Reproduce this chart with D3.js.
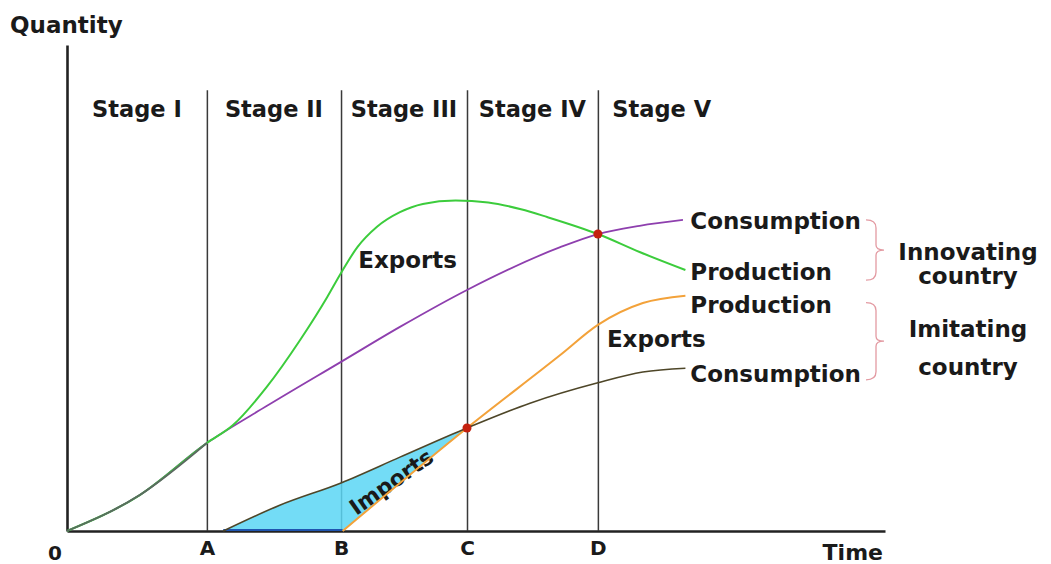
<!DOCTYPE html>
<html>
<head>
<meta charset="utf-8">
<script src="https://cdn.jsdelivr.net/npm/d3@7"></script>
<style>
  body { margin: 0; background: #fff; }
  text { font-family: "DejaVu Sans", Verdana, sans-serif; font-weight: bold; fill: #1a1a1a; }
</style>
</head>
<body>
<div id="viz"></div>
<script>
var width = 1051
var height = 564

// time points on the x axis (A..D) and stage names
var timeMarks = ["A", "B", "C", "D"]
var timeValues = [17.1, 33.5, 48.9, 64.9]
var stageNames = ["Stage I", "Stage II", "Stage III", "Stage IV", "Stage V"]
var stageEnd = 80.5

// innovating country
var innovProduction = [[0,0],[8.9,7.4],[17.1,18.1],[20.3,21.8],[24.4,29.6],[28.5,39.3],[31.8,48.1],[33.5,53.1],[35.5,58.4],[37.9,62.6],[40.7,65.6],[43.5,67.3],[47.5,68.0],[51.5,67.6],[55.5,66.2],[58.7,64.6],[64.9,61.1],[70.0,57.4],[75.6,53.7]]
var innovConsumption = [[0,0],[8.9,7.4],[17.1,18.1],[24.4,25.7],[33.5,34.8],[40.7,42.0],[48.9,49.6],[60.3,58.4],[64.9,61.1],[70.0,62.8],[75.3,64.0]]

// imitating country
var imitProduction = [[33.7,0],[48.9,21.2],[60.3,36.2],[64.9,42.4],[70.4,46.9],[75.6,48.4]]
var imitConsumption = [[19.1,0],[26.0,5.3],[33.5,9.9],[40.7,15.2],[48.9,21.2],[56.6,26.3],[64.9,30.5],[70.4,32.7],[75.6,33.5]]

var crossings = [[48.9,21.2],[64.9,61.1]]

var canvas = d3.select("#viz")
	.append("svg")
	.attr("width", width)
	.attr("height", height);

var x = d3.scaleLinear().domain([0, 100]).range([67, 885]);
var y = d3.scaleLinear().domain([0, 100]).range([531, 45]);

var stageTop = 90.7;

// x axis with the A..D ticks stretched up as stage dividers
var xAxis = d3.axisBottom(x)
	.tickValues(timeValues)
	.tickFormat(function(d, i){ return timeMarks[i]; })
	.tickSizeInner(-(y(0) - y(stageTop)))
	.tickSizeOuter(0)
	.tickPadding(10);

var gx = canvas.append("g")
	.attr("transform", "translate(0," + y(0) + ")")
	.call(xAxis);
gx.select(".domain").attr("stroke", "#222").attr("stroke-width", 2.6);
gx.selectAll(".tick line").attr("stroke", "#3a3a3a").attr("stroke-width", 1.5);
gx.selectAll(".tick text")
	.attr("font-size", 20)
	.attr("font-family", "DejaVu Sans")
	.attr("font-weight", "bold")
	.attr("fill", "#1a1a1a");

var gy = canvas.append("g")
	.attr("transform", "translate(" + x(0) + ",0)")
	.call(d3.axisLeft(y).tickValues([]).tickSizeOuter(0));
gy.select(".domain").attr("stroke", "#222").attr("stroke-width", 2.6);

canvas.append("text").text("Quantity")
	.attr("x", 10).attr("y", 33).attr("font-size", 23);
canvas.append("text").text("0")
	.attr("x", x(0) - 12).attr("y", 560).attr("text-anchor", "middle").attr("font-size", 20);
canvas.append("text").text("Time")
	.attr("x", 883).attr("y", 560).attr("text-anchor", "end").attr("font-size", 22);

// stage labels centred in each interval
var bounds = [0].concat(timeValues, [stageEnd]);
canvas.selectAll(".stage")
	.data(stageNames)
	.enter()
	.append("text")
	.attr("class", "stage")
	.text(function(d){ return d; })
	.attr("x", function(d, i){ return x((bounds[i] + bounds[i + 1]) / 2); })
	.attr("y", y(85.2))
	.attr("text-anchor", "middle")
	.attr("font-size", 22.5);

var line = d3.line()
	.x(function(d){ return x(d[0]); })
	.y(function(d){ return y(d[1]); })
	.curve(d3.curveMonotoneX);

// imports area: under imitating consumption, above imitating production
var consPart = imitConsumption.filter(function(d){ return d[0] <= timeValues[2]; });
var prodPart = imitProduction.filter(function(d){ return d[0] <= timeValues[2]; }).reverse();
var areaPath = line(consPart) + d3.line()
	.x(function(d){ return x(d[0]); })
	.y(function(d){ return y(d[1]); })(prodPart).replace(/^M/, "L") + "Z";

canvas.append("path")
	.attr("d", areaPath)
	.attr("fill", "#5ad6f4")
	.attr("fill-opacity", 0.85)
	.attr("stroke", "none");
canvas.append("line")
	.attr("x1", x(imitConsumption[0][0])).attr("x2", x(imitProduction[0][0]))
	.attr("y1", y(0) - 1).attr("y2", y(0) - 1)
	.attr("stroke", "#1f55b0").attr("stroke-width", 2);

canvas.append("text").text("Imports")
	.attr("transform", "translate(" + x(40.2) + "," + y(8.8) + ") rotate(-35)")
	.attr("text-anchor", "middle")
	.attr("font-size", 22)
	.attr("fill", "#1c2a44");

var series = [
	{data: innovConsumption, color: "#8e3fae", w: 1.8},
	{data: innovProduction, color: "#3ccc3c", w: 2},
	{data: imitProduction, color: "#f3a23a", w: 2},
	{data: imitConsumption, color: "#4e4628", w: 1.6}
];

canvas.selectAll(".series")
	.data(series)
	.enter()
	.append("path")
	.attr("class", "series")
	.attr("d", function(d){ return line(d.data); })
	.attr("fill", "none")
	.attr("stroke", function(d){ return d.color; })
	.attr("stroke-width", function(d){ return d.w; });

// shared start of both innovating curves
canvas.append("path")
	.attr("d", line(innovProduction.filter(function(d){ return d[0] <= timeValues[0]; })))
	.attr("fill", "none")
	.attr("stroke", "#5b6a60")
	.attr("stroke-width", 1.8);

canvas.selectAll(".dot")
	.data(crossings)
	.enter()
	.append("circle")
	.attr("cx", function(d){ return x(d[0]); })
	.attr("cy", function(d){ return y(d[1]); })
	.attr("r", 4.5)
	.attr("fill", "#c4200e");

// curve labels
var notes = [
	{t: "Exports", x: 35.6, y: 54.1},
	{t: "Consumption", x: 76.2, y: 62.1},
	{t: "Production", x: 76.2, y: 51.6},
	{t: "Production", x: 76.2, y: 44.9},
	{t: "Exports", x: 66.0, y: 37.9},
	{t: "Consumption", x: 76.2, y: 30.7}
];
canvas.selectAll(".note")
	.data(notes)
	.enter()
	.append("text")
	.attr("class", "note")
	.text(function(d){ return d.t; })
	.attr("x", function(d){ return x(d.x); })
	.attr("y", function(d){ return y(d.y); })
	.attr("font-size", 23);

var groups = [
	{lines: ["Innovating", "country"], top: 64.0, bottom: 51.6, dy: [10, 34]},
	{lines: ["Imitating", "country"], top: 47.0, bottom: 31.1, dy: [-4, 34]}
];

function brace(x0, y0, y1){
	var xv = x0 + 10, xt = x0 + 18, ym = (y0 + y1) / 2;
	return "M" + x0 + "," + y0 +
		"Q" + xv + "," + y0 + " " + xv + "," + (y0 + 8) +
		"L" + xv + "," + (ym - 5) +
		"Q" + xv + "," + ym + " " + xt + "," + ym +
		"Q" + xv + "," + ym + " " + xv + "," + (ym + 5) +
		"L" + xv + "," + (y1 - 8) +
		"Q" + xv + "," + y1 + " " + x0 + "," + y1;
}

groups.forEach(function(g){
	canvas.append("path")
		.attr("d", brace(866, y(g.top), y(g.bottom)))
		.attr("fill", "none")
		.attr("stroke", "#e39aa2")
		.attr("stroke-width", 1.3);
	var mid = (y(g.top) + y(g.bottom)) / 2;
	canvas.append("text").text(g.lines[0])
		.attr("x", 968).attr("y", mid + g.dy[0])
		.attr("text-anchor", "middle").attr("font-size", 23);
	canvas.append("text").text(g.lines[1])
		.attr("x", 968).attr("y", mid + g.dy[1])
		.attr("text-anchor", "middle").attr("font-size", 23);
});
</script>
</body>
</html>
